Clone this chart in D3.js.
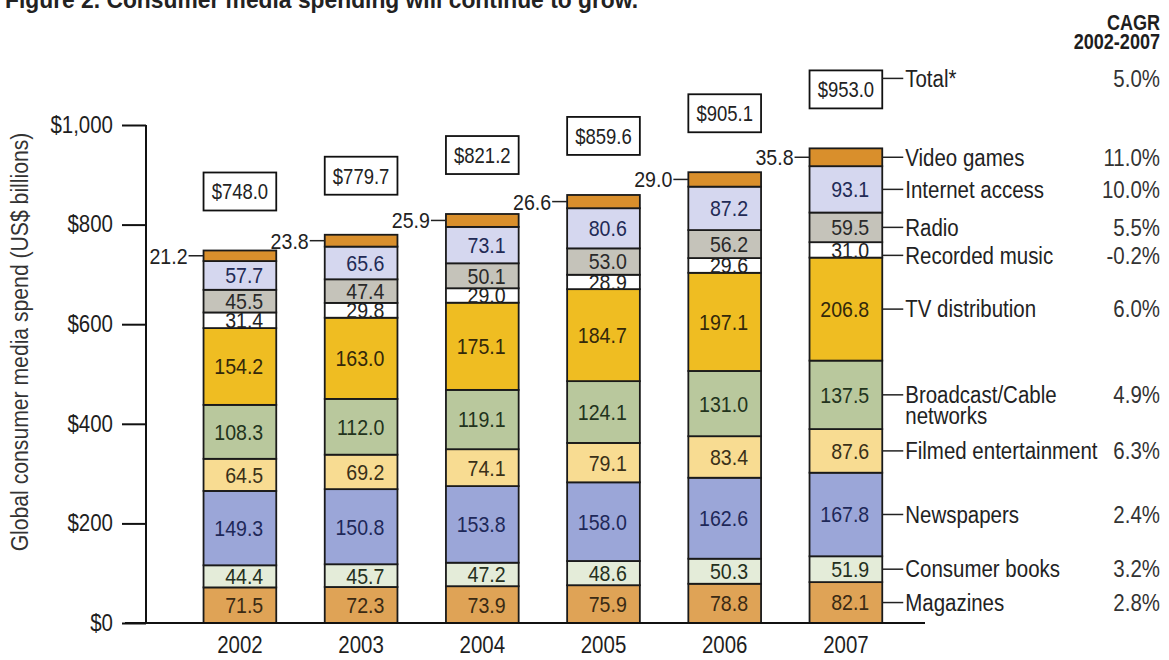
<!DOCTYPE html>
<html>
<head>
<meta charset="utf-8">
<script src="https://cdn.jsdelivr.net/npm/d3@7"></script>
<style>
  html, body { margin: 0; padding: 0; background: #fff; }
  svg { display: block; }
  text { font-family: "Liberation Sans", Arial, sans-serif; fill: #1e1e1e; }
</style>
</head>
<body>
<svg id="chart" width="1169" height="660"></svg>
<script>
// Global consumer media spend by segment, US$ billions
const years = ["2002", "2003", "2004", "2005", "2006", "2007"];
const segments = ["Magazines", "Consumer books", "Newspapers", "Filmed entertainment",
  "Broadcast/Cable networks", "TV distribution", "Recorded music", "Radio",
  "Internet access", "Video games"];

const magazines      = [71.5, 72.3, 73.9, 75.9, 78.8, 82.1];
const consumerBooks  = [44.4, 45.7, 47.2, 48.6, 50.3, 51.9];
const newspapers     = [149.3, 150.8, 153.8, 158.0, 162.6, 167.8];
const filmed         = [64.5, 69.2, 74.1, 79.1, 83.4, 87.6];
const broadcast      = [108.3, 112.0, 119.1, 124.1, 131.0, 137.5];
const tvDistribution = [154.2, 163.0, 175.1, 184.7, 197.1, 206.8];
const recordedMusic  = [31.4, 29.8, 29.0, 28.9, 29.6, 31.0];
const radio          = [45.5, 47.4, 50.1, 53.0, 56.2, 59.5];
const internetAccess = [57.7, 65.6, 73.1, 80.6, 87.2, 93.1];
const videoGames     = [21.2, 23.8, 25.9, 26.6, 29.0, 35.8];
const totals         = [748.0, 779.7, 821.2, 859.6, 905.1, 953.0];

// Compound annual growth 2002-2007, one per segment (same order), plus total
const segmentCagr = ["2.8%", "3.2%", "2.4%", "6.3%", "4.9%", "6.0%", "-0.2%", "5.5%", "10.0%", "11.0%"];
const totalCagr = "5.0%";

const yTicks = [0, 200, 400, 600, 800, 1000];

const segmentColors = ["#dfa356", "#e4ecd9", "#9ba6d8", "#f8dc92", "#b9c89d",
  "#efbd22", "#ffffff", "#c5c3ba", "#d5d7ef", "#d98f2c"];
const labelColors = ["#3a2a14", "#253020", "#1e2858", "#3a3018", "#22331c",
  "#33280a", "#222222", "#2a2a2a", "#222a55", "#222"];

const seriesValues = [magazines, consumerBooks, newspapers, filmed, broadcast,
  tvDistribution, recordedMusic, radio, internetAccess, videoGames];

const table = years.map((yr, i) => {
  const row = { year: yr };
  segments.forEach((s, k) => { row[s] = seriesValues[k][i]; });
  return row;
});

// Squeeze text horizontally to a condensed face
const NARROW = 0.89;
function condense(sel, factor = NARROW) {
  sel.each(function () {
    const w = this.getComputedTextLength();
    d3.select(this).attr("textLength", w * factor).attr("lengthAdjust", "spacingAndGlyphs");
  });
  return sel;
}

const svg = d3.select("#chart");

const y = d3.scaleLinear().domain([0, 1000]).range([623, 125]);
const x = d3.scaleBand().domain(years).range([179.3, 906.5]).paddingInner(0.4).paddingOuter(0.2);

const stacked = d3.stack().keys(segments)(table);

// Title (runs off the top edge)
svg.append("text")
  .attr("x", 5).attr("y", 8)
  .attr("textLength", 633).attr("lengthAdjust", "spacingAndGlyphs")
  .style("font-weight", "bold").style("font-size", "24px").style("fill", "#222")
  .text("Figure 2. Consumer media spending will continue to grow.");

// CAGR heading
condense(svg.append("text").attr("x", 1160).attr("y", 30).attr("text-anchor", "end")
  .style("font-weight", "bold").style("font-size", "22px").text("CAGR"), 0.82);
condense(svg.append("text").attr("x", 1160).attr("y", 49).attr("text-anchor", "end")
  .style("font-weight", "bold").style("font-size", "22px").text("2002-2007"), 0.82);

// Y axis
const yAxis = svg.append("g")
  .attr("transform", "translate(146,0)")
  .call(d3.axisLeft(y).tickValues(yTicks).tickSize(24).tickPadding(9)
    .tickFormat(d => "$" + d3.format(",")(d)));
yAxis.select(".domain").remove();
yAxis.selectAll(".tick line").attr("stroke", "#111").attr("stroke-width", 2);
condense(yAxis.selectAll(".tick text").style("font-size", "23px").style("font-family", null).attr("fill", "#222"));
svg.append("line").attr("x1", 146).attr("x2", 146).attr("y1", y(1000)).attr("y2", y(0))
  .attr("stroke", "#111").attr("stroke-width", 2);

condense(svg.append("text")
  .attr("transform", "translate(28,342) rotate(-90)")
  .attr("text-anchor", "middle").style("font-size", "23px").style("fill", "#333")
  .text("Global consumer media spend (US$ billions)"), 0.92);

// X axis
const xAxis = svg.append("g")
  .attr("transform", `translate(0,${y(0)})`)
  .call(d3.axisBottom(x).tickSize(0).tickPadding(14));
xAxis.select(".domain").remove();
condense(xAxis.selectAll(".tick text").style("font-size", "23px").style("font-family", null).attr("fill", "#222"));

// Stacked segments
const layers = svg.append("g").selectAll("g")
  .data(stacked).join("g")
  .attr("fill", (d, k) => segmentColors[k]);

layers.selectAll("rect")
  .data(d => d.map(p => ({ p, year: p.data.year })))
  .join("rect")
  .attr("x", d => x(d.year))
  .attr("width", x.bandwidth())
  .attr("y", d => y(d.p[1]))
  .attr("height", d => y(d.p[0]) - y(d.p[1]))
  .attr("stroke", "#1a1a1a").attr("stroke-width", 1.8);

svg.append("line").attr("x1", 125).attr("x2", 925).attr("y1", y(0)).attr("y2", y(0))
  .attr("stroke", "#111").attr("stroke-width", 2);

// Value labels inside segments (video games labelled beside the bar)
stacked.forEach((layer, k) => {
  const isOutside = segments[k] === "Video games";
  layer.forEach(p => {
    const yr = p.data.year;
    const cy = (y(p[0]) + y(p[1])) / 2;
    const v = p[1] - p[0];
    if (isOutside) {
      svg.append("line")
        .attr("x1", x(yr) - 15).attr("x2", x(yr))
        .attr("y1", cy).attr("y2", cy)
        .attr("stroke", "#222").attr("stroke-width", 1.5);
      condense(svg.append("text")
        .attr("x", x(yr) - 16).attr("y", cy).attr("dy", "0.36em")
        .attr("text-anchor", "end").style("font-size", "22px").style("fill", "#222")
        .text(d3.format(".1f")(v)));
    } else {
      condense(svg.append("text")
        .attr("x", x(yr) + x.bandwidth() - 13).attr("y", cy).attr("dy", "0.36em")
        .attr("text-anchor", "end").style("font-size", "22px").style("fill", labelColors[k])
        .text(d3.format(".1f")(v)));
    }
  });
});

// Total boxes above the bars
years.forEach((yr, i) => {
  const bottom = y(totals[i]) - 40;
  const top = bottom - 38;
  svg.append("rect")
    .attr("x", x(yr)).attr("y", top).attr("width", x.bandwidth()).attr("height", 38)
    .attr("fill", "#fff").attr("stroke", "#111").attr("stroke-width", 1.8);
  condense(svg.append("text")
    .attr("x", x(yr) + x.bandwidth() / 2).attr("y", top + 19).attr("dy", "0.36em")
    .attr("text-anchor", "middle").style("font-size", "22px").style("fill", "#222")
    .text("$" + d3.format(".1f")(totals[i])), 0.84);
});

// Legend beside the last bar
const last = years[years.length - 1];
const barRight = x(last) + x.bandwidth();
const legendX = barRight + 23;

const legendItems = stacked.map((layer, k) => {
  const p = layer[layer.length - 1];
  return { k, yPos: (y(p[0]) + y(p[1])) / 2 };
}).sort((a, b) => a.yPos - b.yPos);
for (let i = 1; i < legendItems.length; i++) {
  legendItems[i].yPos = Math.max(legendItems[i].yPos, legendItems[i - 1].yPos + 28);
}

function legendText(xPos, yPos, str, anchor, color) {
  return condense(svg.append("text")
    .attr("x", xPos).attr("y", yPos).attr("dy", "0.36em")
    .attr("text-anchor", anchor).style("font-size", "23px").style("fill", color)
    .text(str));
}

legendItems.forEach(item => {
  const name = segments[item.k];
  svg.append("line")
    .attr("x1", barRight).attr("x2", legendX - 2)
    .attr("y1", item.yPos).attr("y2", item.yPos)
    .attr("stroke", "#222").attr("stroke-width", 1.5);
  if (name === "Broadcast/Cable networks") {
    legendText(legendX, item.yPos, "Broadcast/Cable", "start", "#222");
    legendText(legendX, item.yPos + 21, "networks", "start", "#222");
  } else {
    legendText(legendX, item.yPos, name, "start", "#222");
  }
  legendText(1160, item.yPos, segmentCagr[item.k], "end", "#333");
});

// Total legend entry
const lastTop = y(totals[totals.length - 1]) - 78;
const totalY = lastTop + 8;
svg.append("line")
  .attr("x1", barRight).attr("x2", legendX - 2)
  .attr("y1", totalY).attr("y2", totalY)
  .attr("stroke", "#222").attr("stroke-width", 1.5);
legendText(legendX, totalY, "Total*", "start", "#222");
legendText(1160, totalY, totalCagr, "end", "#333");
</script>
</body>
</html>
